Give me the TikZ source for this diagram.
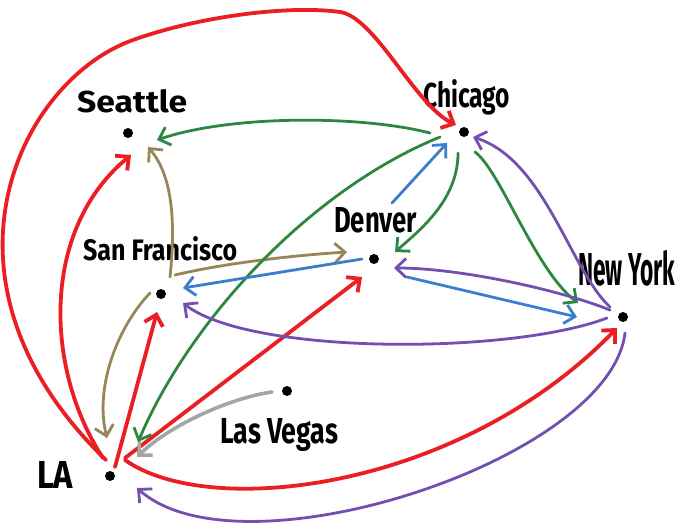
\documentclass[tikz,border=0pt]{standalone}
\usepackage{fontspec}
\setmainfont{Fira Sans}
\usepackage{graphicx}
\usetikzlibrary{arrows.meta}
\definecolor{cred}{RGB}{235,30,35}
\definecolor{cgreen}{RGB}{45,135,65}
\definecolor{cblue}{RGB}{60,125,205}
\definecolor{cpurple}{RGB}{115,80,175}
\definecolor{ctan}{RGB}{150,135,90}
\definecolor{cgray}{RGB}{165,165,165}
\tikzset{
  dot/.style={circle,fill=black,inner sep=0pt,minimum size=10pt},
  lbl/.style={inner sep=0pt,anchor=base west,font=\bfseries},
  edge/.style={line cap=round,line join=round,-{Straight Barb[length=10pt,width=19pt]}},
  redge/.style={edge,draw=cred,line width=3.8pt},
  gedge/.style={edge,draw=cgreen,line width=2.8pt},
  bedge/.style={edge,draw=cblue,line width=2.8pt},
  pedge/.style={edge,draw=cpurple,line width=2.8pt},
  tedge/.style={edge,draw=ctan,line width=2.8pt},
  gyedge/.style={edge,draw=cgray,line width=3.6pt},
}
\begin{document}
\begin{tikzpicture}[x=1pt,y=-1pt]
\path[use as bounding box,fill=white] (0,0) rectangle (679,529);
% cities
\node[dot] (SEA) at (128,133) {};
\node[dot] (CHI) at (464,132) {};
\node[dot] (DEN) at (374,259) {};
\node[dot] (SF)  at (161,294) {};
\node[dot] (NY)  at (623,317) {};
\node[dot] (LV)  at (287,391) {};
\node[dot] (LA)  at (110,476) {};
% labels
\node[lbl] (SEAl) at (77,113)  {\resizebox{110pt}{23pt}{Seattle}};
\node[lbl] (CHIl) at (423,108) {\resizebox{87pt}{28pt}{Chicago}};
\node[lbl] (DENl) at (334,233) {\resizebox{83pt}{25pt}{Denver}};
\node[lbl] (SFl)  at (83,260)  {\resizebox{154pt}{24pt}{San Francisco}};
\node[lbl] (NYl)  at (578,285) {\resizebox{97pt}{35pt}{New York}};
\node[lbl] (LVl)  at (220,443) {\resizebox{118pt}{25pt}{Las Vegas}};
\node[lbl] (LAl)  at (37,488)  {\resizebox{36pt}{27pt}{LA}};
% red: from LA
\draw[redge] ([shift={(-4,-16)}]LA.center) .. controls (-80,280) and (20,80) .. (133,40)
  .. controls (200,16) and (290,5) .. (340,12)
  .. controls (375,17) and (415,105) .. ([shift={(-8,-7)}]CHI.center);
\draw[redge] ([shift={(-7,-18)}]LA.center) .. controls (45,370) and (40,230) .. ([shift={(3,22)}]SEA.center);
\draw[redge] ([shift={(5,-9)}]LA.center) -- ([shift={(-4,18)}]SF.center);
\draw[redge] ([shift={(15,-18)}]LA.center) -- ([shift={(-12,18)}]DEN.center);
\draw[redge] ([shift={(15,-16)}]LA.center) .. controls (210,520) and (460,490) .. ([shift={(-6,11)}]NY.center);
% gray
\draw[gyedge] ([shift={(-15,1)}]LV.center) .. controls (230,398) and (170,425) .. ([shift={(27,-19)}]LA.center);
% tan: from SF
\draw[tedge] ([shift={(9,-17)}]SF.center) .. controls (176,220) and (172,175) .. ([shift={(20,14)}]SEA.center);
\draw[tedge] ([shift={(14,-19)}]SF.center) .. controls (230,262) and (300,255) .. ([shift={(-27,-7)}]DEN.center);
\draw[tedge] ([shift={(-11,-1)}]SF.center) .. controls (115,330) and (95,390) .. ([shift={(-3,-38)}]LA.center);
% green: from Chicago
\draw[gedge] ([shift={(-34,1)}]CHI.center) .. controls (360,115) and (230,115) .. ([shift={(29,7)}]SEA.center);
\draw[gedge] ([shift={(-24,5)}]CHI.center) .. controls (310,190) and (190,320) .. ([shift={(28,-34)}]LA.center);
\draw[gedge] ([shift={(-6,21)}]CHI.center) .. controls (458,200) and (420,230) .. ([shift={(21,-7)}]DEN.center);
\draw[gedge] ([shift={(11,20)}]CHI.center) .. controls (500,170) and (535,270) .. ([shift={(-45,-14)}]NY.center);
% blue: from Denver
\draw[bedge] ([shift={(18,-56)}]DEN.center) -- ([shift={(-17,11)}]CHI.center);
\draw[bedge] ([shift={(-12,0)}]DEN.center) -- ([shift={(22,-6)}]SF.center);
\draw[bedge] ([shift={(33,18)}]DEN.center) -- ([shift={(-46,0)}]NY.center);
% purple: from New York
\draw[pedge] ([shift={(-13,-10)}]NY.center) .. controls (570,270) and (545,160) .. ([shift={(9,5)}]CHI.center);
\draw[pedge] ([shift={(-13,-7)}]NY.center) .. controls (560,290) and (460,268) .. ([shift={(20,9)}]DEN.center);
\draw[pedge] ([shift={(-16,1)}]NY.center) .. controls (510,355) and (250,355) .. ([shift={(22,9)}]SF.center);
\draw[pedge] ([shift={(2,16)}]NY.center) .. controls (610,460) and (240,580) .. ([shift={(27,12)}]LA.center);
\end{tikzpicture}
\end{document}
